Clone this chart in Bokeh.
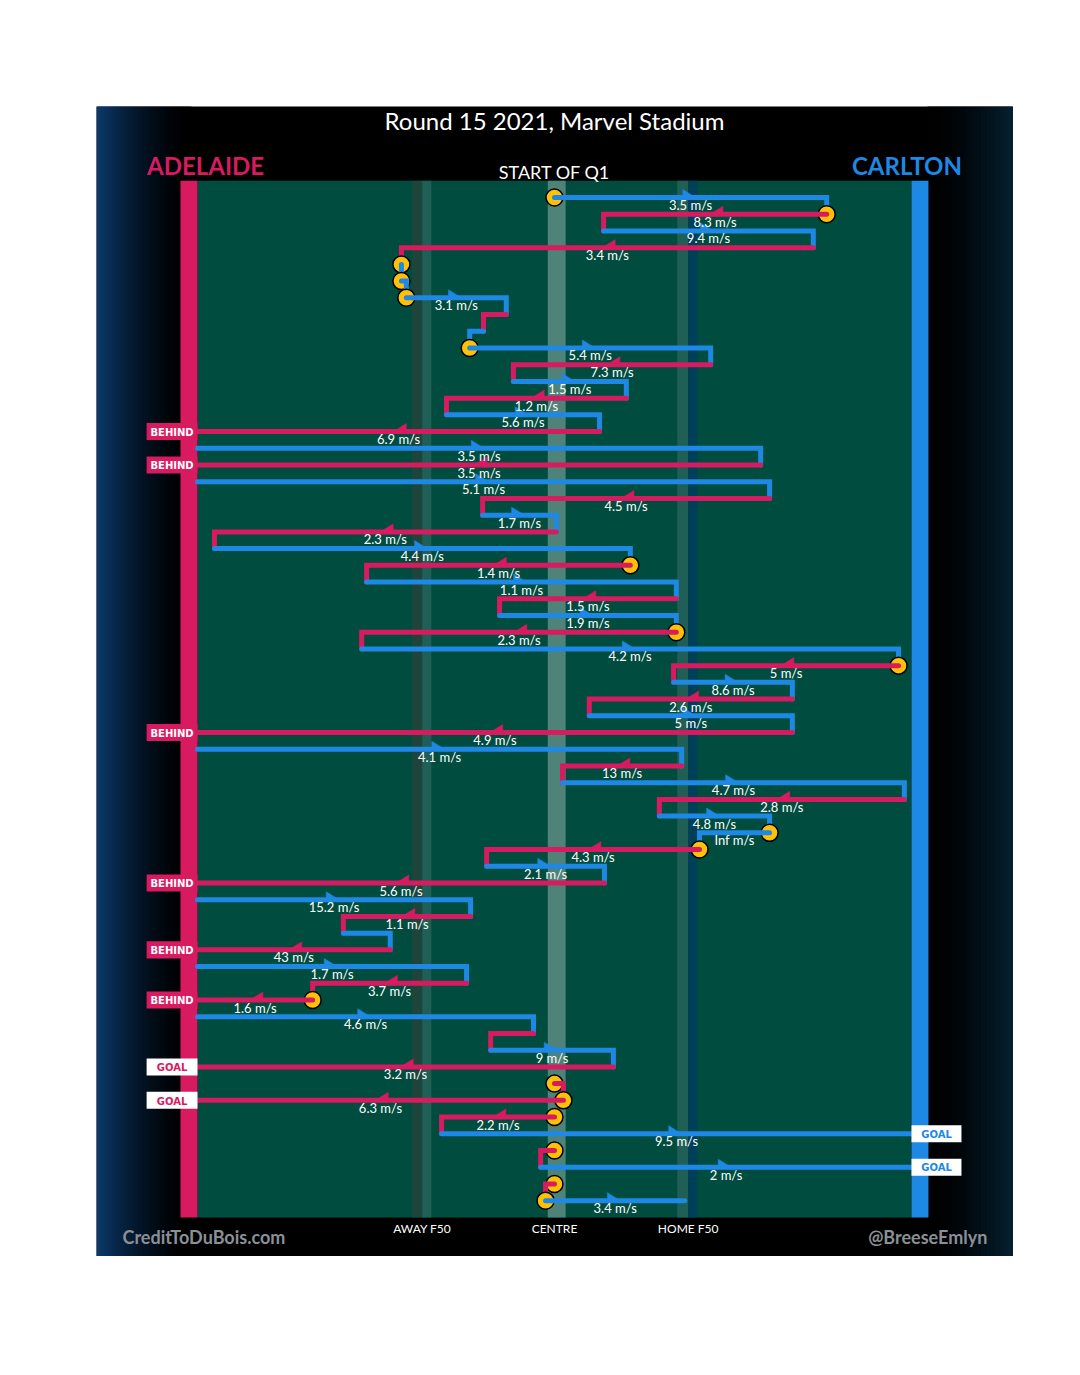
import numpy as np
from bokeh.plotting import figure
from bokeh.models import Range1d
from bokeh.core.properties import value
from bokeh.embed import file_html
from bokeh.resources import INLINE

# ---------------- data ----------------
title = "Round 15 2021, Marvel Stadium"
home_team = "ADELAIDE"
away_team = "CARLTON"
period_label = "START OF Q1"
zone_labels = ["AWAY F50", "CENTRE", "HOME F50"]
zone_pos = [50.35, 80.0, 109.96]
credit_left = "CreditToDuBois.com"
credit_right = "@BreeseEmlyn"
FIELD_LEN = 160.0

row_team = ["CAR", "ADE", "CAR", "ADE", "CAR", "CAR", "CAR", "ADE", "CAR", "CAR",
            "ADE", "CAR", "ADE", "CAR", "ADE", "CAR", "ADE", "CAR", "ADE", "CAR",
            "ADE", "CAR", "ADE", "CAR", "ADE", "CAR", "ADE", "CAR", "ADE", "CAR",
            "ADE", "CAR", "ADE", "CAR", "ADE", "CAR", "ADE", "CAR", "CAR", "ADE",
            "CAR", "ADE", "CAR", "ADE", "CAR", "ADE", "CAR", "ADE", "ADE", "CAR",
            "ADE", "CAR", "ADE", "ADE", "ADE", "ADE", "CAR", "ADE", "CAR", "ADE",
            "CAR"]
row_start = [80.0, 141.0, 91.0, 138.0, 45.7, 45.7, 46.8, 69.2, 64.1, 61.0,
             115.0, 70.8, 96.1, 55.8, 90.1, 0.0, 126.2, 0.0, 128.2, 63.9,
             80.4, 3.8, 97.0, 37.9, 107.3, 67.7, 107.3, 36.8, 157.1, 106.7,
             133.3, 87.8, 133.3, 0.0, 108.5, 81.8, 158.4, 103.5, 128.2, 112.5,
             64.8, 91.2, 0.0, 61.2, 32.7, 43.2, 0.0, 60.3, 25.8, 0.0,
             75.3, 65.7, 93.2, 80.0, 82.0, 80.0, 54.7, 80.0, 76.9, 80.0,
             78.0]
row_end = [141.0, 91.0, 138.0, 45.7, 45.7, 46.8, 69.2, 64.1, 61.0, 115.0,
           70.8, 96.1, 55.8, 90.1, 0.0, 126.2, 0.0, 128.2, 63.9, 80.4,
           3.8, 97.0, 37.9, 107.3, 67.7, 107.3, 36.8, 157.1, 106.7, 133.3,
           87.8, 133.3, 0.0, 108.5, 81.8, 158.4, 103.5, 128.2, 112.5, 64.8,
           91.2, 0.0, 61.2, 32.7, 43.2, 0.0, 60.3, 25.8, 0.0, 75.3,
           65.7, 93.2, 0.0, 82.0, 0.0, 54.7, 160.0, 76.9, 160.0, 78.0,
           109.2]
row_speed = ["3.5", "8.3", "9.4", "3.4", "", "", "3.1", "", "", "5.4",
             "7.3", "1.5", "1.2", "5.6", "6.9", "3.5", "3.5", "5.1", "4.5", "1.7",
             "2.3", "4.4", "1.4", "1.1", "1.5", "1.9", "2.3", "4.2", "5", "8.6",
             "2.6", "5", "4.9", "4.1", "13", "4.7", "2.8", "4.8", "Inf", "4.3",
             "2.1", "5.6", "15.2", "1.1", "", "43", "1.7", "3.7", "1.6", "4.6",
             "", "9", "3.2", "", "6.3", "2.2", "9.5", "", "2", "",
             "3.4"]
row_outcome = ["", "", "", "", "", "", "", "", "", "",
               "", "", "", "", "BEHIND", "", "BEHIND", "", "", "",
               "", "", "", "", "", "", "", "", "", "",
               "", "", "BEHIND", "", "", "", "", "", "", "",
               "", "BEHIND", "", "", "", "BEHIND", "", "", "BEHIND", "",
               "", "", "GOAL", "", "GOAL", "", "GOAL", "", "GOAL", "",
               ""]
row_stoppage = [1, 1, 0, 0, 1, 1, 1, 0, 0, 1,
                0, 0, 0, 0, 0, 0, 0, 0, 0, 0,
                0, 0, 1, 0, 0, 0, 1, 0, 1, 0,
                0, 0, 0, 0, 0, 0, 0, 0, 1, 1,
                0, 0, 0, 0, 0, 0, 0, 0, 1, 0,
                0, 0, 0, 1, 1, 1, 0, 1, 0, 1,
                1]

# ---------------- style ----------------
PINK = "#d81b60"
BLUE = "#1e88e5"
GREEN = "#004d40"
YELLOW = "#ffc107"
FONT = value("Lato")

XL, XR = -22.63, 182.86
YT, YB = -4.443, 64.34

p = figure(width=1013, height=1256,
           x_range=Range1d(XL, XR), y_range=Range1d(YB, YT),
           output_backend="svg", toolbar_location=None,
           x_axis_location=None, y_axis_location=None,
           min_border=0, min_border_left=96, min_border_top=106,
           min_border_right=0, min_border_bottom=0)
p.grid.visible = False
p.outline_line_color = None
p.background_fill_color = "black"
p.border_fill_color = "white"

# edge gradients
n = 60
ed = np.linspace(XL, -1.5, n + 1)
cols = []
for i in range(n):
    t = (i + 0.5) / n
    f = (1 - t) ** 1.6
    cols.append("#%02x%02x%02x" % (int(12 * f), int(58 * f), int(108 * f)))
p.quad(left=ed[:-1], right=ed[1:] + 0.3, top=YT, bottom=YB, color=cols, line_width=0)
ed2 = np.linspace(163.8, XR, n + 1)
cols2 = []
for i in range(n):
    t = (i + 0.5) / n
    f = t ** 1.5
    cols2.append("#%02x%02x%02x" % (int(7 * f), int(32 * f), int(48 * f)))
p.quad(left=ed2[:-1] - 0.3, right=ed2[1:], top=YT, bottom=YB, color=cols2, line_width=0)

# field
n_rows = len(row_team)
field_top, field_bot = 0.0, n_rows + 1.0
p.quad(left=0, right=FIELD_LEN, top=field_top, bottom=field_bot, color=GREEN, line_width=0)
stripe_l = [48.1, zone_pos[0], 78.5, 107.5, zone_pos[2]]
stripe_r = [zone_pos[0], 52.4, 82.5, zone_pos[2], 112.1]
stripe_c = ["#1e453b", "#1f5f55", "#4f8279", "#1f5f55", "#003f58"]
p.quad(left=stripe_l, right=stripe_r, top=field_top, bottom=field_bot, color=stripe_c, line_width=0)
# goal bars
p.quad(left=[-3.81, FIELD_LEN], right=[0, 163.8], top=field_top, bottom=field_bot,
       color=[PINK, BLUE], line_width=0)

# chains
row_y = list(range(1, n_rows + 1))
for i in range(n_rows):
    col = PINK if row_team[i] == "ADE" else BLUE
    xs = [row_start[i], row_end[i]]
    ys = [row_y[i], row_y[i]]
    if i + 1 < n_rows and abs(row_end[i] - row_start[i + 1]) < 1e-6 and 0 < row_end[i] < FIELD_LEN:
        xs.append(row_end[i])
        ys.append(row_y[i + 1])
    if row_stoppage[i]:
        p.scatter([row_start[i]], [row_y[i]], size=17, fill_color=YELLOW,
                  line_color="black", line_width=1.5)
    p.line(xs, ys, line_color=col, line_width=5, line_join="miter", line_cap="round")

# arrows (half arrowheads above the line)
AW, AH = 1.75, 0.48
ax, ay, ac = [], [], []
lx, ly, lt = [], [], []
for i in range(n_rows):
    if row_speed[i] == "":
        continue
    xm = (row_start[i] + row_end[i]) / 2
    y = row_y[i]
    lx.append(xm)
    ly.append(y + 0.45)
    lt.append(row_speed[i] + " m/s")
    if row_speed[i] == "Inf":
        continue
    d = 1 if row_end[i] > row_start[i] else -1
    ax.append([xm - d * AW, xm - d * AW, xm + d * AW])
    ay.append([y - AH, y + 0.1, y + 0.1])
    ac.append(PINK if row_team[i] == "ADE" else BLUE)
p.patches(ax, ay, fill_color=ac, line_color=ac, line_width=0.5)
p.text(lx, ly, text=lt, text_align="center", text_baseline="middle",
       text_color="white", text_font=FONT, text_font_size="13px")

# outcome boxes
bl, br, bt, bb, bc = [], [], [], [], []
tx, ty, tt, tc = [], [], [], []
for i in range(n_rows):
    if row_outcome[i] == "":
        continue
    y = row_y[i]
    ade = row_team[i] == "ADE"
    if ade:
        l, r = -11.4, 0.0
    else:
        l, r = FIELD_LEN, 171.2
    bl.append(l); br.append(r); bt.append(y - 0.51); bb.append(y + 0.51)
    tcol = PINK if ade else BLUE
    if row_outcome[i] == "BEHIND":
        bc.append(tcol); tc.append("white")
    else:
        bc.append("white"); tc.append(tcol)
    tx.append((l + r) / 2); ty.append(y + 0.04); tt.append(row_outcome[i])
p.quad(left=bl, right=br, top=bt, bottom=bb, color=bc, line_width=0)
p.text(tx, ty, text=tt, text_align="center", text_baseline="middle", text_color=tc,
       text_font=value("DejaVu Sans"), text_font_style="bold", text_font_size="10px")

# headers
p.text([80.0], [-3.62], text=[title], text_align="center", text_baseline="middle",
       text_color="white", text_font=FONT, text_font_size="24px")
p.text([-11.3], [-0.9], text=[home_team], text_align="left", text_baseline="middle",
       text_color=PINK, text_font=FONT, text_font_style="bold", text_font_size="24px")
p.text([171.3], [-0.9], text=[away_team], text_align="right", text_baseline="middle",
       text_color=BLUE, text_font=FONT, text_font_style="bold", text_font_size="24px")
p.text([80.0], [-0.5], text=[period_label], text_align="center", text_baseline="middle",
       text_color="white", text_font=FONT, text_font_size="18px")

# footer
p.text(zone_pos, [62.66] * 3, text=zone_labels, text_align="center", text_baseline="middle",
       text_color="white", text_font=FONT, text_font_size="12px")
p.text([-16.8], [63.2], text=[credit_left], text_align="left", text_baseline="middle",
       text_color="#8a9096", text_font=FONT, text_font_style="bold", text_font_size="18px")
p.text([177.0], [63.2], text=[credit_right], text_align="right", text_baseline="middle",
       text_color="#8a9096", text_font=FONT, text_font_style="bold", text_font_size="18px")

open("out.html", "w").write(file_html(p, INLINE))
